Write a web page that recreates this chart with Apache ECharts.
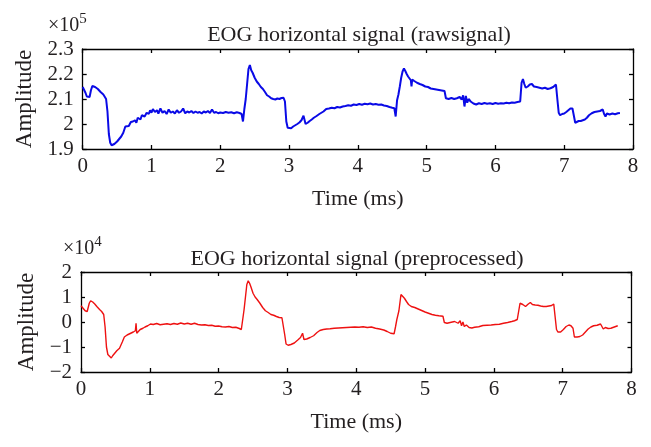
<!DOCTYPE html>
<html><head><meta charset="utf-8">
<script src="https://cdn.jsdelivr.net/npm/echarts@6/dist/echarts.min.js"></script>
<style>html,body{margin:0;padding:0;background:#fff}#c{width:651px;height:447px}</style>
</head><body><div id="c"></div>
<script>
// Time axis ticks (ms)
const xTicks = [0, 1, 2, 3, 4, 5, 6, 7, 8];
// Raw signal, amplitude in units of 10^5
const rawTime = [0.00,0.02,0.04,0.06,0.08,0.10,0.12,0.14,0.16,0.18,0.20,0.22,0.24,0.26,0.28,0.30,0.32,0.34,0.36,0.38,0.40,0.42,0.44,0.46,0.48,0.50,0.53,0.56,0.59,0.62,0.64,0.67,0.70,0.73,0.76,0.78,0.80,0.82,0.84,0.86,0.88,0.90,0.93,0.96,0.98,1.00,1.02,1.05,1.08,1.10,1.13,1.16,1.19,1.22,1.25,1.28,1.31,1.34,1.37,1.40,1.43,1.46,1.49,1.52,1.55,1.58,1.61,1.64,1.67,1.70,1.73,1.76,1.79,1.82,1.85,1.88,1.91,1.94,1.97,2.00,2.04,2.08,2.12,2.16,2.20,2.24,2.28,2.31,2.33,2.35,2.37,2.39,2.41,2.43,2.45,2.47,2.50,2.53,2.56,2.59,2.62,2.65,2.68,2.71,2.74,2.77,2.80,2.83,2.86,2.89,2.92,2.94,2.96,2.98,3.00,3.03,3.06,3.09,3.12,3.15,3.18,3.21,3.23,3.24,3.27,3.30,3.33,3.36,3.40,3.44,3.47,3.50,3.54,3.58,3.62,3.66,3.70,3.74,3.78,3.82,3.86,3.90,3.94,3.98,4.02,4.06,4.10,4.14,4.18,4.22,4.26,4.30,4.34,4.38,4.42,4.46,4.50,4.53,4.55,4.57,4.59,4.61,4.63,4.65,4.67,4.69,4.71,4.73,4.75,4.77,4.78,4.79,4.82,4.86,4.90,4.94,4.98,5.02,5.06,5.10,5.14,5.18,5.22,5.26,5.28,5.32,5.36,5.40,5.44,5.48,5.51,5.53,5.55,5.57,5.59,5.61,5.64,5.68,5.72,5.76,5.80,5.84,5.88,5.92,5.96,6.00,6.04,6.08,6.12,6.16,6.20,6.24,6.28,6.32,6.36,6.38,6.40,6.42,6.44,6.47,6.50,6.53,6.56,6.60,6.64,6.68,6.72,6.76,6.80,6.84,6.88,6.90,6.92,6.94,6.97,7.00,7.03,7.06,7.09,7.12,7.14,7.16,7.18,7.21,7.24,7.27,7.30,7.33,7.36,7.40,7.44,7.48,7.52,7.56,7.58,7.60,7.62,7.66,7.70,7.74,7.78,7.81];
const rawAmp = [2.148,2.140,2.125,2.110,2.118,2.108,2.135,2.152,2.155,2.148,2.150,2.140,2.135,2.128,2.125,2.118,2.110,2.100,2.050,1.960,1.925,1.915,1.908,1.920,1.915,1.930,1.940,1.950,1.965,1.990,1.996,1.992,2.008,2.010,2.015,2.005,2.025,2.030,2.018,2.035,2.040,2.030,2.045,2.040,2.055,2.045,2.060,2.048,2.055,2.042,2.062,2.045,2.052,2.040,2.058,2.045,2.050,2.042,2.055,2.045,2.050,2.062,2.043,2.050,2.046,2.052,2.044,2.050,2.045,2.048,2.042,2.050,2.046,2.052,2.044,2.058,2.045,2.048,2.043,2.046,2.044,2.048,2.045,2.047,2.043,2.047,2.044,2.040,2.010,2.060,2.100,2.160,2.220,2.236,2.215,2.205,2.185,2.170,2.160,2.148,2.140,2.128,2.115,2.110,2.103,2.100,2.098,2.102,2.100,2.104,2.105,2.090,2.010,1.985,1.978,1.983,1.990,1.995,2.000,2.006,2.015,2.033,2.028,2.000,2.005,2.012,2.018,2.025,2.032,2.040,2.045,2.050,2.060,2.062,2.065,2.063,2.068,2.066,2.070,2.072,2.075,2.073,2.078,2.076,2.080,2.077,2.081,2.079,2.082,2.078,2.080,2.077,2.078,2.074,2.072,2.068,2.065,2.063,2.030,2.095,2.118,2.150,2.185,2.210,2.222,2.212,2.200,2.190,2.185,2.175,2.150,2.178,2.172,2.165,2.160,2.156,2.150,2.148,2.142,2.140,2.138,2.136,2.134,2.132,2.103,2.100,2.104,2.100,2.103,2.108,2.098,2.115,2.070,2.112,2.085,2.100,2.090,2.082,2.078,2.083,2.080,2.084,2.081,2.083,2.080,2.084,2.081,2.083,2.082,2.085,2.083,2.086,2.085,2.088,2.090,2.165,2.180,2.160,2.145,2.150,2.158,2.160,2.150,2.148,2.145,2.142,2.145,2.140,2.143,2.148,2.158,2.100,2.045,2.035,2.040,2.042,2.048,2.055,2.062,2.062,2.055,2.005,2.010,2.012,2.012,2.015,2.018,2.025,2.035,2.043,2.048,2.050,2.052,2.058,2.040,2.030,2.042,2.038,2.042,2.039,2.043,2.044];
// Preprocessed signal, amplitude in units of 10^4
const preTime = [0.00,0.03,0.06,0.09,0.12,0.14,0.17,0.20,0.23,0.27,0.30,0.33,0.35,0.37,0.39,0.41,0.44,0.46,0.49,0.52,0.56,0.60,0.63,0.67,0.70,0.73,0.76,0.79,0.80,0.81,0.83,0.86,0.90,0.93,0.97,1.01,1.05,1.10,1.15,1.20,1.25,1.30,1.35,1.40,1.45,1.50,1.55,1.60,1.65,1.70,1.75,1.80,1.85,1.90,1.95,2.00,2.05,2.10,2.15,2.20,2.25,2.30,2.33,2.35,2.37,2.39,2.41,2.43,2.45,2.47,2.50,2.53,2.56,2.60,2.64,2.68,2.72,2.76,2.80,2.84,2.88,2.92,2.94,2.96,2.98,3.01,3.05,3.10,3.15,3.19,3.22,3.24,3.28,3.33,3.38,3.43,3.47,3.52,3.57,3.62,3.68,3.74,3.80,3.86,3.92,3.98,4.04,4.10,4.16,4.22,4.28,4.34,4.40,4.45,4.50,4.55,4.57,4.59,4.62,4.65,4.67,4.70,4.73,4.76,4.80,4.85,4.90,4.95,5.00,5.05,5.10,5.15,5.20,5.26,5.28,5.32,5.38,5.43,5.48,5.51,5.53,5.55,5.57,5.60,5.64,5.68,5.72,5.78,5.84,5.90,5.96,6.02,6.08,6.14,6.20,6.26,6.30,6.34,6.36,6.38,6.42,6.46,6.50,6.53,6.56,6.60,6.64,6.68,6.72,6.76,6.80,6.84,6.87,6.89,6.91,6.93,6.97,7.01,7.05,7.09,7.12,7.15,7.17,7.21,7.25,7.29,7.33,7.37,7.41,7.45,7.50,7.55,7.57,7.59,7.62,7.66,7.70,7.75,7.80];
const preAmp = [0.65,0.55,0.45,0.42,0.75,0.85,0.80,0.72,0.62,0.50,0.42,0.30,-0.20,-1.00,-1.30,-1.38,-1.44,-1.35,-1.25,-1.15,-1.05,-0.80,-0.60,-0.52,-0.48,-0.44,-0.40,-0.35,-0.05,-0.45,-0.38,-0.30,-0.25,-0.20,-0.15,-0.08,-0.10,-0.06,-0.11,-0.09,-0.07,-0.10,-0.06,-0.09,-0.04,-0.08,-0.05,-0.09,-0.05,-0.10,-0.12,-0.11,-0.14,-0.13,-0.17,-0.16,-0.19,-0.20,-0.18,-0.22,-0.21,-0.26,-0.30,0.10,0.50,1.00,1.50,1.65,1.55,1.40,1.15,1.00,0.90,0.75,0.58,0.45,0.38,0.30,0.27,0.22,0.18,0.17,0.10,-0.50,-0.88,-0.93,-0.90,-0.84,-0.72,-0.62,-0.45,-0.70,-0.68,-0.62,-0.55,-0.42,-0.34,-0.30,-0.28,-0.27,-0.25,-0.24,-0.23,-0.22,-0.21,-0.20,-0.21,-0.19,-0.22,-0.20,-0.25,-0.28,-0.32,-0.38,-0.45,-0.47,-0.20,0.10,0.45,1.10,1.12,0.95,0.82,0.70,0.62,0.58,0.52,0.46,0.40,0.35,0.30,0.27,0.25,0.23,-0.02,-0.05,-0.01,0.02,-0.05,0.05,-0.15,0.00,-0.18,-0.12,-0.22,-0.24,-0.21,-0.19,-0.14,-0.13,-0.12,-0.10,-0.09,-0.05,-0.02,0.02,0.05,0.10,0.10,0.75,0.70,0.62,0.72,0.78,0.70,0.68,0.67,0.64,0.62,0.62,0.64,0.66,0.72,0.76,-0.30,-0.40,-0.40,-0.30,-0.18,-0.12,-0.15,-0.25,-0.60,-0.60,-0.58,-0.52,-0.40,-0.28,-0.20,-0.15,-0.13,-0.08,-0.10,-0.28,-0.22,-0.26,-0.25,-0.20,-0.15];
const rawTicks = [1.9, 2.0, 2.1, 2.2, 2.3];
const preTicks = [-2, -1, 0, 1, 2];

const FONT = 'Liberation Serif';
const TXT = '#231f20';
const chart = echarts.init(document.getElementById('c'), null, {renderer: 'canvas'});

function fmtNum(v) {
  let s = (Math.round(v * 1000) / 1000).toString();
  return s.replace('-', '\u2212');
}
const lineS = {color: '#000', width: 1.3};
function xBottom(gi) {
  return {
    type: 'value', gridIndex: gi, position: 'bottom', min: xTicks[0], max: xTicks[xTicks.length - 1], interval: 1,
    axisLine: {show: true, onZero: false, lineStyle: lineS},
    axisTick: {show: true, inside: true, length: 4, lineStyle: lineS},
    axisLabel: {color: TXT, fontFamily: FONT, fontSize: 21, margin: 7},
    splitLine: {show: false},
    name: 'Time (ms)', nameLocation: 'middle', nameGap: 39,
    nameTextStyle: {color: TXT, fontFamily: FONT, fontSize: 22}
  };
}
function xTop(gi) {
  return {
    type: 'value', gridIndex: gi, position: 'top', min: xTicks[0], max: xTicks[xTicks.length - 1], interval: 1,
    axisLine: {show: true, onZero: false, lineStyle: lineS},
    axisTick: {show: true, inside: true, length: 4, lineStyle: lineS},
    axisLabel: {show: false}, splitLine: {show: false}
  };
}
function yLeft(gi, ticks) {
  return {
    type: 'value', gridIndex: gi, position: 'left', min: ticks[0], max: ticks[ticks.length - 1], interval: ticks[1] - ticks[0],
    axisLine: {show: true, onZero: false, lineStyle: lineS},
    axisTick: {show: true, inside: true, length: 4, lineStyle: lineS},
    axisLabel: {color: TXT, fontFamily: FONT, fontSize: 21, margin: 9, formatter: fmtNum},
    splitLine: {show: false},
    name: 'Amplitude', nameLocation: 'middle', nameGap: 42, nameRotate: 90,
    nameTextStyle: {color: TXT, fontFamily: FONT, fontSize: 23}
  };
}
function yRight(gi, ticks) {
  return {
    type: 'value', gridIndex: gi, position: 'right', min: ticks[0], max: ticks[ticks.length - 1], interval: ticks[1] - ticks[0],
    axisLine: {show: true, onZero: false, lineStyle: lineS},
    axisTick: {show: true, inside: true, length: 4, lineStyle: lineS},
    axisLabel: {show: false}, splitLine: {show: false}
  };
}
function expo(x, y, e) {
  return {type: 'text', left: x, top: y, style: {text: '{a|\u00d710}{b|' + e + '}', rich: {
    a: {fontFamily: FONT, fontSize: 20, fill: TXT, verticalAlign: 'bottom'},
    b: {fontFamily: FONT, fontSize: 15, fill: TXT, verticalAlign: 'top', padding: [0, 0, 9, 0]}}}};
}

const option = {
  animation: false,
  backgroundColor: '#fff',
  title: [
    {text: 'EOG horizontal signal (rawsignal)', left: 354, top: 19, textAlign: 'center',
     textStyle: {fontFamily: FONT, fontSize: 22, fontWeight: 'normal', color: TXT}},
    {text: 'EOG horizontal signal (preprocessed)', left: 352, top: 243, textAlign: 'center',
     textStyle: {fontFamily: FONT, fontSize: 22, fontWeight: 'normal', color: TXT}}
  ],
  graphic: [expo(48, 12, 5), expo(63, 235, 4)],
  grid: [
    {left: 82.7, top: 49, width: 550.3, height: 100},
    {left: 81, top: 272, width: 550.5, height: 100}
  ],
  xAxis: [xBottom(0), xTop(0), xBottom(1), xTop(1)],
  yAxis: [yLeft(0, rawTicks), yRight(0, rawTicks), yLeft(1, preTicks), yRight(1, preTicks)],
  series: [
    {type: 'line', xAxisIndex: 0, yAxisIndex: 0, showSymbol: false, symbol: 'none',
     lineStyle: {color: '#0a0ae6', width: 2}, data: rawTime.map((t, i) => [t, rawAmp[i]])},
    {type: 'line', xAxisIndex: 2, yAxisIndex: 2, showSymbol: false, symbol: 'none',
     lineStyle: {color: '#ee1111', width: 1.4}, data: preTime.map((t, i) => [t, preAmp[i]])}
  ]
};
chart.setOption(option);
</script>
</body></html>
